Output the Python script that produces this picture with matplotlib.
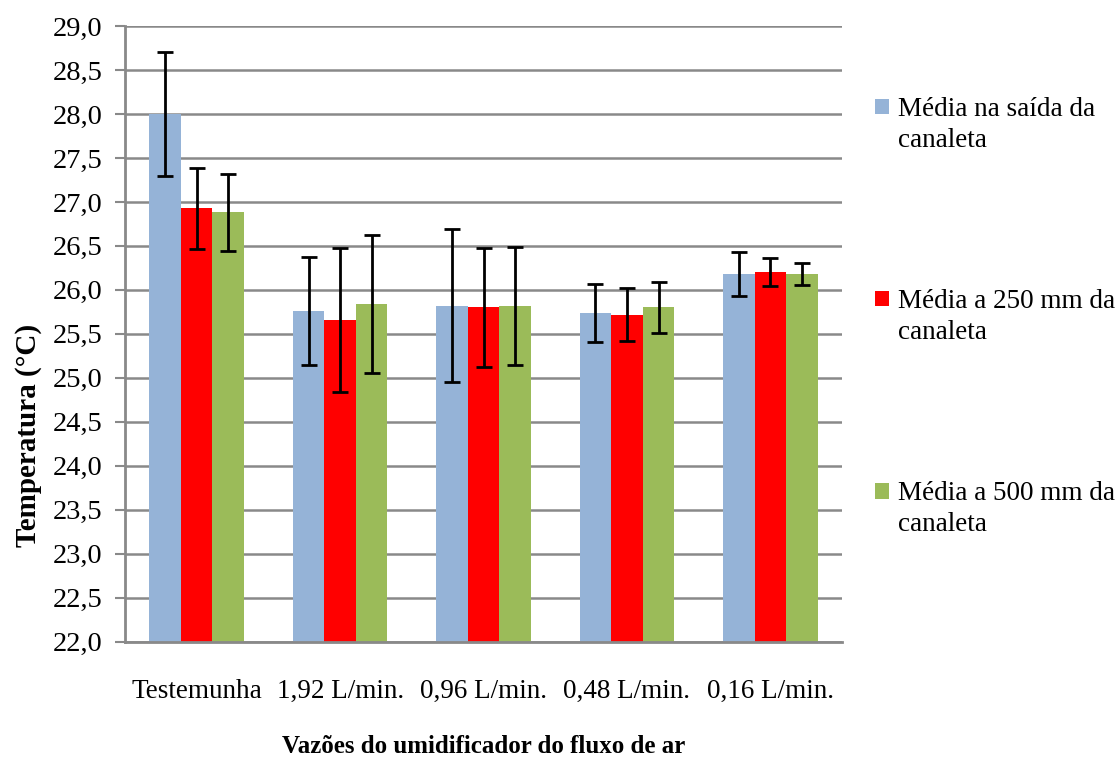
import matplotlib
matplotlib.use('Agg')
import matplotlib.pyplot as plt
import numpy as np

# data
categories = ["Testemunha", "1,92 L/min.", "0,96 L/min.", "0,48 L/min.", "0,16 L/min."]
series_names = ["Média na saída da\ncanaleta",
                "Média a 250 mm da\ncanaleta",
                "Média a 500 mm da\ncanaleta"]
saida = [28.00, 25.76, 25.82, 25.74, 26.18]
saida_err = [0.70, 0.61, 0.87, 0.33, 0.25]
mm250 = [26.93, 25.66, 25.80, 25.72, 26.20]
mm250_err = [0.46, 0.82, 0.68, 0.30, 0.16]
mm500 = [26.88, 25.84, 25.82, 25.80, 26.18]
mm500_err = [0.44, 0.78, 0.67, 0.29, 0.13]
yticks = np.arange(22.0, 29.01, 0.5)

colors = ["#95B3D7", "#FF0000", "#9BBB59"]
grid_gray = "#898989"

plt.rcParams['font.family'] = ['Liberation Serif', 'DejaVu Serif']

fig = plt.figure(figsize=(11.18, 7.64), dpi=100)
ax = fig.add_axes([0.1118, 0.160, 0.6414, 0.806])

x = np.arange(len(categories))
width = 0.22
values = [saida, mm250, mm500]
errors = [saida_err, mm250_err, mm500_err]
for i, (vals, errs) in enumerate(zip(values, errors)):
    pos = x + (i - 1) * width
    ax.bar(pos, np.array(vals) - 22.0, width, bottom=22.0, color=colors[i],
           label=series_names[i], zorder=2)
    ax.errorbar(pos, vals, yerr=errs, fmt='none', ecolor='black',
                elinewidth=2, capsize=6, capthick=2, zorder=3)

ax.set_xlim(-0.5, len(categories) - 0.5)
ax.set_ylim(22.0, 29.0)
ax.set_yticks(yticks)
ax.set_yticklabels([f"{v:.1f}".replace(".", ",") for v in yticks], fontsize=20.5)
ax.set_xticks(x)
ax.set_xticklabels(categories, fontsize=19.5)
ax.tick_params(axis='x', length=0, pad=27)
ax.tick_params(axis='y', length=7, width=1.5, color=grid_gray, pad=9)

ax.yaxis.grid(True, color=grid_gray, linewidth=1.8, zorder=0)
ax.set_axisbelow(True)
for side in ["top", "right"]:
    ax.spines[side].set_visible(False)
for side in ["left", "bottom"]:
    ax.spines[side].set_color(grid_gray)
    ax.spines[side].set_linewidth(2)

ax.set_ylabel("Temperatura (°C)", fontsize=21, fontweight="bold")
ax.yaxis.set_label_coords(-0.116, 0.335)
ax.set_xlabel("Vazões do umidificador do fluxo de ar", fontsize=18,
              fontweight="bold", labelpad=22)

leg = ax.legend(loc="upper left", bbox_to_anchor=(1.012, 0.925), frameon=False,
                fontsize=19.5, handlelength=0.5, handleheight=0.5,
                handletextpad=0.35, labelspacing=5.0)
for t in leg.get_texts():
    t.set_linespacing(1.35)
# put the square next to the first line of each label, as in the original
for p in leg.get_patches():
    p.set_y(p.get_y() + 13)

plt.savefig("out.png", dpi=100)
plt.close()
